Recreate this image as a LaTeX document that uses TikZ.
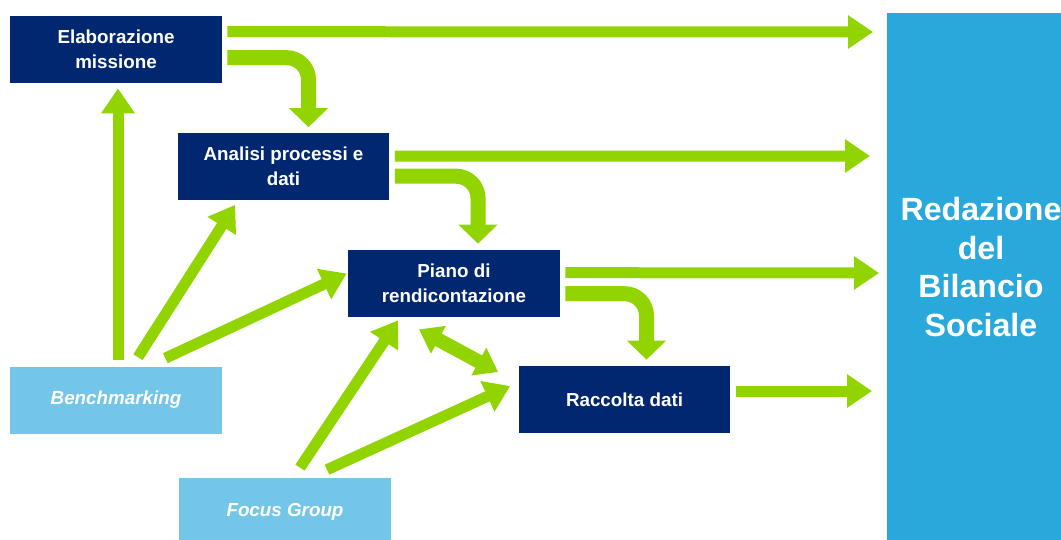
\documentclass[tikz,border=0pt]{standalone}
\usepackage{fontspec}
\setmainfont{Liberation Sans}
\usepackage{xcolor}
\usetikzlibrary{arrows.meta,calc}

\definecolor{navybox}{HTML}{00276F}
\definecolor{lightbox}{HTML}{73C6E7}
\definecolor{redblue}{HTML}{29A9DB}
\definecolor{flowgreen}{HTML}{92D400}

\begin{document}
\begin{tikzpicture}[x=0.02cm,y=-0.02cm]

        \tikzstyle{stepbox}=[fill=navybox,text=white,font=\bfseries\fontsize{10.7}{14.2}\selectfont,align=center,minimum width=4.24cm,minimum height=1.34cm,inner sep=0pt]
        \tikzstyle{inputbox}=[stepbox,fill=lightbox,font=\bfseries\itshape\fontsize{10.7}{14.2}\selectfont]
        \tikzstyle{flow}=[draw=flowgreen,line width=0.22cm,-{Triangle[width=0.64cm,length=0.5cm]}]
        \tikzstyle{flowbend}=[draw=flowgreen,line width=0.3cm,rounded corners=0.44cm,-{Triangle[width=0.76cm,length=0.38cm]}]
        \tikzstyle{flowboth}=[draw=flowgreen,line width=0.28cm,{Triangle[width=0.6cm,length=0.44cm]}-{Triangle[width=0.6cm,length=0.44cm]}]

        \clip (0,0) rectangle (1061,539);

        %% Redazione column
        \fill[redblue] (887,13) rectangle (1075,545);
        \node[text=white,align=center,font=\bfseries\fontsize{18.3}{22}\selectfont] (red) at (981,267) {Redazione\\del\\Bilancio\\Sociale};
        \coordinate (in1) at (873,32);
        \coordinate (in2) at (870,156);
        \coordinate (in3) at (879,273);
        \coordinate (in4) at (872,391);

        %% Process steps
        \node[stepbox] (ela) at (116,49.5) {Elaborazione\\missione};
        \node[stepbox] (ana) at (283.5,166) {Analisi processi e\\dati};
        \node[stepbox] (pia) at (454,283.5) {Piano di\\rendicontazione};
        \node[stepbox] (rac) at (624.5,399.5) {Raccolta dati};

        %% Inputs
        \node[inputbox] (ben) at (116,400) {Benchmarking};
        \node[inputbox] (foc) at (285,511.5) {Focus Group};

        %% Arrows to the right
        \draw[flow] ($(ela.north east)+(5,16)$) -- (in1);
        \draw[flow] ($(ana.north east)+(5,24)$) -- (in2);
        \draw[flow] ($(pia.north east)+(5,23)$) -- (in3);
        \draw[flow] ($(rac.east)+(5,-8.5)$) -- (in4);

        %% Arrows down the steps
        \draw[flowbend] ($(ela.north east)+(5,42)$) -| ($(ana.north)+(25,-5)$);
        \draw[flowbend] ($(ana.north east)+(5,44)$) -| ($(pia.north)+(24,-6)$);
        \draw[flowbend] ($(pia.north east)+(5,44)$) -| ($(rac.north)+(22,-6)$);

        %% Arrows from the inputs
        \draw[flow] ($(ben.north)+(2,-6)$) -- ($(ela.south)+(2,5)$);
        \draw[flow] ($(ben.north)+(22,-9)$) -- ($(ana.south west)+(58,5)$);
        \draw[flow] ($(ben.north east)+(-57,-8)$) -- ($(pia.west)+(-1,-10)$);
        \draw[flow] ($(foc.north)+(15,-10)$) -- ($(pia.south)+(-56,3)$);
        \draw[flow] ($(foc.north)+(42,-8)$) -- ($(rac.west)+(-8,-13.5)$);
        \draw[flowboth] ($(pia.south)+(-35,12)$) -- ($(rac.west)+(-20,-27.5)$);

\end{tikzpicture}
\end{document}
